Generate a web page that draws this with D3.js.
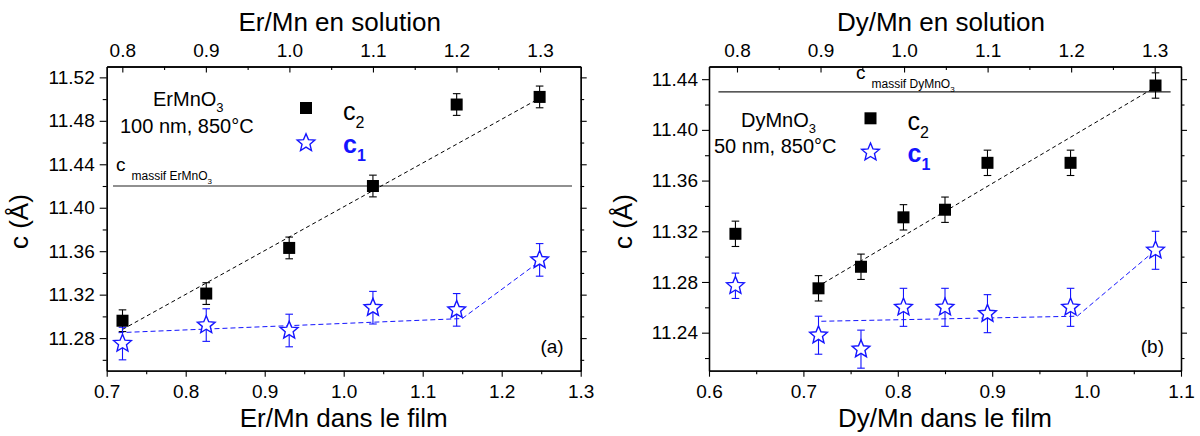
<!DOCTYPE html>
<html><head><meta charset="utf-8">
<script src="https://cdn.jsdelivr.net/npm/d3@7"></script>
<style>body{margin:0;background:#fff}svg{display:block}</style>
</head><body>
<svg id="c" width="1200" height="436"></svg>
<script>
// ---------- DATA ----------
// Panel (a) ErMnO3
const erFilm   = [0.720, 0.826, 0.931, 1.037, 1.143, 1.248];
const erC2     = [11.296, 11.321, 11.363, 11.420, 11.495, 11.502];
const erC2Err  = [0.010, 0.010, 0.010, 0.010, 0.010, 0.010];
const erC1     = [11.275, 11.292, 11.287, 11.308, 11.306, 11.352];
const erC1Err  = [0.015, 0.015, 0.015, 0.015, 0.015, 0.015];
const erFitC2X = [0.720, 1.246];
const erFitC2Y = [11.288, 11.500];
const erFitC1X = [0.715, 1.150, 1.245];
const erFitC1Y = [11.285, 11.298, 11.349];
const erMassif = 11.42;
const erMassifX = [0.708, 1.289];
// Panel (b) DyMnO3
const dyFilm   = [0.628, 0.716, 0.761, 0.806, 0.850, 0.895, 0.983, 1.073];
const dyC2     = [11.318, 11.275, 11.292, 11.331, 11.337, 11.374, 11.374, 11.435];
const dyC2Err  = [0.010, 0.010, 0.010, 0.010, 0.010, 0.010, 0.010, 0.010];
const dyC1     = [11.277, 11.238, 11.227, 11.260, 11.260, 11.255, 11.260, 11.305];
const dyC1Err  = [0.010, 0.015, 0.015, 0.015, 0.015, 0.015, 0.015, 0.015];
const dyFitC2X = [0.721, 1.069];
const dyFitC2Y = [11.279, 11.432];
const dyFitC1X = [0.719, 0.990, 1.068];
const dyFitC1Y = [11.249, 11.253, 11.302];
const dyMassif = 11.43;
const dyMassifX = [0.610, 1.089];
// Ticks
const erXTicks = [0.7, 0.8, 0.9, 1.0, 1.1, 1.2, 1.3];
const erXMinor = [0.75, 0.85, 0.95, 1.05, 1.15, 1.25];
const dyXTicks = [0.6, 0.7, 0.8, 0.9, 1.0, 1.1];
const dyXMinor = [0.65, 0.75, 0.85, 0.95, 1.05];
const topTicks = [0.8, 0.9, 1.0, 1.1, 1.2, 1.3];
const topMinor = [0.85, 0.95, 1.05, 1.15, 1.25];
const erYTicks = [11.28, 11.32, 11.36, 11.40, 11.44, 11.48, 11.52];
const erYMinor = [11.26, 11.30, 11.34, 11.38, 11.42, 11.46, 11.50];
const dyYTicks = [11.24, 11.28, 11.32, 11.36, 11.40, 11.44];
const dyYMinor = [11.22, 11.26, 11.30, 11.34, 11.38, 11.42];

// ---------- LAYOUT ----------
const FONT = '"Liberation Sans", Arial, Helvetica, sans-serif';
const BLUE = "#1414ff";
const PT = 66.5, PB = 370.7;
const svg = d3.select("#c");

function starPath(R, k) {
  const p = [];
  for (let i = 0; i < 10; i++) {
    const r = i % 2 ? R * k : R;
    const a = -Math.PI / 2 + i * Math.PI / 5;
    p.push((r * Math.cos(a)).toFixed(2) + "," + (r * Math.sin(a)).toFixed(2));
  }
  return "M" + p.join("L") + "Z";
}

function axStyle(sel, fs) {
  sel.attr("font-family", FONT);
  sel.select(".domain").attr("stroke", "#000").attr("stroke-width", 1.3);
  sel.selectAll(".tick line").attr("stroke", "#000").attr("stroke-width", 1.1);
  sel.selectAll(".tick text").attr("font-size", fs || 19).attr("fill", "#000").attr("font-family", FONT);
}

function drawPanel(cfg) {
  const x = d3.scaleLinear().domain(cfg.xDom).range([cfg.left, cfg.right]);
  const xt = d3.scaleLinear().domain(cfg.topDom).range([cfg.left, cfg.right]);
  const y = d3.scaleLinear().domain(cfg.yDom).range([PB, PT]);
  const g = svg.append("g");
  const f1 = d3.format(".1f"), f2 = d3.format(".2f");

  // bottom
  g.append("g").attr("transform", `translate(0,${PB})`)
    .call(d3.axisBottom(x).tickValues(cfg.xTicks).tickFormat(f1).tickSizeInner(6).tickSizeOuter(0).tickPadding(8))
    .call(axStyle);
  g.append("g").attr("transform", `translate(0,${PB})`)
    .call(d3.axisBottom(x).tickValues(cfg.xMinor).tickFormat("").tickSizeInner(3.5).tickSizeOuter(0))
    .call(axStyle);
  // top
  g.append("g").attr("transform", `translate(0,${PT})`)
    .call(d3.axisTop(xt).tickValues(topTicks).tickFormat(f1).tickSizeInner(-6).tickSizeOuter(0).tickPadding(10))
    .call(axStyle);
  g.append("g").attr("transform", `translate(0,${PT})`)
    .call(d3.axisTop(xt).tickValues(topMinor).tickFormat("").tickSizeInner(-3.5).tickSizeOuter(0))
    .call(axStyle);
  // left
  g.append("g").attr("transform", `translate(${cfg.left},0)`)
    .call(d3.axisLeft(y).tickValues(cfg.yTicks).tickFormat(f2).tickSizeInner(7).tickSizeOuter(0).tickPadding(cfg.yPad))
    .call(axStyle);
  g.append("g").attr("transform", `translate(${cfg.left},0)`)
    .call(d3.axisLeft(y).tickValues(cfg.yMinor).tickFormat("").tickSizeInner(4).tickSizeOuter(0))
    .call(axStyle);
  // right
  g.append("g").attr("transform", `translate(${cfg.right},0)`)
    .call(d3.axisRight(y).tickValues(cfg.yTicks).tickFormat("").tickSizeInner(6).tickSizeOuter(0))
    .call(axStyle);
  g.append("g").attr("transform", `translate(${cfg.right},0)`)
    .call(d3.axisRight(y).tickValues(cfg.yMinor).tickFormat("").tickSizeInner(3.5).tickSizeOuter(0))
    .call(axStyle);

  // titles
  const cx = (cfg.left + cfg.right) / 2;
  g.append("text").attr("x", cx - 4).attr("y", 31).attr("text-anchor", "middle")
    .attr("font-family", FONT).attr("font-size", 26).text(cfg.topTitle);
  g.append("text").attr("x", cx).attr("y", 427).attr("text-anchor", "middle")
    .attr("font-family", FONT).attr("font-size", 26).text(cfg.bottomTitle);
  g.append("text").attr("transform", `translate(${cfg.yTitleX},${(PT + PB) / 2 + 3}) rotate(-90)`)
    .attr("text-anchor", "middle").attr("font-family", FONT).attr("font-size", 26).text("c (Å)");

  // massif line
  g.append("line")
    .attr("x1", x(cfg.massifX[0])).attr("x2", x(cfg.massifX[1]))
    .attr("y1", y(cfg.massif)).attr("y2", y(cfg.massif))
    .attr("stroke", "#222").attr("stroke-width", 1.1);
  const ml = g.append("text").attr("font-family", FONT).attr("fill", "#000")
    .attr("x", cfg.massifLabelX).attr("y", y(cfg.massif) - cfg.massifLabelDy);
  ml.append("tspan").attr("font-size", 19).text("c");
  ml.append("tspan").attr("font-size", 12).attr("dx", 6).attr("dy", 9).text("massif  " + cfg.compound);
  ml.append("tspan").attr("font-size", 8).attr("dy", 4).text("3");

  // fit lines
  const line = d3.line().x(d => x(d[0])).y(d => y(d[1]));
  g.append("path").attr("d", line(cfg.fitC2X.map((v, i) => [v, cfg.fitC2Y[i]])))
    .attr("fill", "none").attr("stroke", "#000").attr("stroke-width", 1).attr("stroke-dasharray", "4,3");
  g.append("path").attr("d", line(cfg.fitC1X.map((v, i) => [v, cfg.fitC1Y[i]])))
    .attr("fill", "none").attr("stroke", BLUE).attr("stroke-width", 1).attr("stroke-dasharray", "5,3");

  // error bars
  function errBars(xs, ys, es, color) {
    const eb = g.append("g").attr("stroke", color).attr("stroke-width", 1.1);
    xs.forEach((xv, i) => {
      const px = x(xv), y1 = y(ys[i] - es[i]), y2 = y(ys[i] + es[i]);
      eb.append("line").attr("x1", px).attr("x2", px).attr("y1", y1).attr("y2", y2);
      eb.append("line").attr("x1", px - 3.8).attr("x2", px + 3.8).attr("y1", y1).attr("y2", y1);
      eb.append("line").attr("x1", px - 3.8).attr("x2", px + 3.8).attr("y1", y2).attr("y2", y2);
    });
  }
  errBars(cfg.film, cfg.c2, cfg.c2Err, "#000");
  errBars(cfg.film, cfg.c1, cfg.c1Err, BLUE);

  // markers
  const S = 12;
  g.append("g").selectAll("rect").data(cfg.film).join("rect")
    .attr("x", (d) => x(d) - S / 2).attr("y", (d, i) => y(cfg.c2[i]) - S / 2)
    .attr("width", S).attr("height", S).attr("fill", "#000");
  const sp = starPath(9.3, 0.45);
  g.append("g").selectAll("path").data(cfg.film).join("path")
    .attr("transform", (d, i) => `translate(${x(d)},${y(cfg.c1[i])})`)
    .attr("d", sp).attr("fill", "#fff").attr("stroke", BLUE).attr("stroke-width", 1.4)
    .attr("stroke-linejoin", "miter");

  // legend
  const L = cfg.legend;
  const t1 = g.append("text").attr("font-family", FONT).attr("font-size", 20).attr("x", L.t1x).attr("y", L.t1y);
  t1.append("tspan").text(cfg.compound);
  t1.append("tspan").attr("font-size", 13).attr("dy", 6).text("3");
  g.append("text").attr("font-family", FONT).attr("font-size", 20).attr("x", L.t2x).attr("y", L.t2y).text(cfg.cond);
  g.append("rect").attr("x", L.mx - S / 2).attr("y", L.sqy - S / 2).attr("width", S).attr("height", S).attr("fill", "#000");
  g.append("path").attr("transform", `translate(${L.mx},${L.sty})`).attr("d", sp)
    .attr("fill", "#fff").attr("stroke", BLUE).attr("stroke-width", 1.4);
  const c2t = g.append("text").attr("font-family", FONT).attr("font-size", 25).attr("x", L.mx + 37).attr("y", L.sqy + 12);
  c2t.append("tspan").text("c");
  c2t.append("tspan").attr("font-size", 16).attr("dy", 8).text("2");
  const c1t = g.append("text").attr("font-family", FONT).attr("font-size", 25).attr("font-weight", "bold")
    .attr("fill", BLUE).attr("x", L.mx + 37).attr("y", L.sty + 10);
  c1t.append("tspan").text("c");
  c1t.append("tspan").attr("font-size", 16).attr("dy", 8).text("1");

  // panel tag
  g.append("text").attr("font-family", FONT).attr("font-size", 19).attr("text-anchor", "end")
    .attr("x", cfg.right - 17).attr("y", 353).text(cfg.tag);
}

drawPanel({
  left: 106.7, right: 580.7, yPad: 5,
  xDom: [0.7, 1.3], topDom: [0.7813, 1.3487], yDom: [11.25, 11.53],
  xTicks: erXTicks, xMinor: erXMinor, yTicks: erYTicks, yMinor: erYMinor,
  topTitle: "Er/Mn en solution", bottomTitle: "Er/Mn dans le film", yTitleX: 28,
  film: erFilm, c2: erC2, c2Err: erC2Err, c1: erC1, c1Err: erC1Err,
  fitC2X: erFitC2X, fitC2Y: erFitC2Y, fitC1X: erFitC1X, fitC1Y: erFitC1Y,
  massif: erMassif, massifX: erMassifX, massifLabelX: 116, massifLabelDy: 15,
  compound: "ErMnO", cond: "100 nm, 850°C", tag: "(a)",
  legend: { t1x: 153, t1y: 106, t2x: 120, t2y: 133, mx: 306, sqy: 108, sty: 143 }
});
drawPanel({
  left: 709, right: 1181, yPad: 4,
  xDom: [0.6, 1.1], topDom: [0.7665, 1.3315], yDom: [11.21, 11.45],
  xTicks: dyXTicks, xMinor: dyXMinor, yTicks: dyYTicks, yMinor: dyYMinor,
  topTitle: "Dy/Mn en solution", bottomTitle: "Dy/Mn dans le film", yTitleX: 632,
  film: dyFilm, c2: dyC2, c2Err: dyC2Err, c1: dyC1, c1Err: dyC1Err,
  fitC2X: dyFitC2X, fitC2Y: dyFitC2Y, fitC1X: dyFitC1X, fitC1Y: dyFitC1Y,
  massif: dyMassif, massifX: dyMassifX, massifLabelX: 856, massifLabelDy: 13,
  compound: "DyMnO", cond: "50 nm, 850°C", tag: "(b)",
  legend: { t1x: 741, t1y: 127, t2x: 714, t2y: 153, mx: 870.5, sqy: 118.3, sty: 152.3 }
});
</script>
</body></html>
